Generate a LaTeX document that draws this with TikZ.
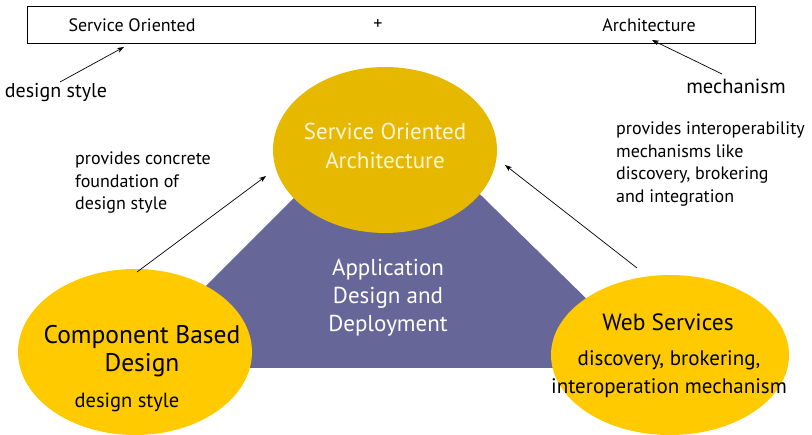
\documentclass[tikz,border=0pt]{standalone}
\usepackage{fontspec}
\setmainfont{PT Sans}
\usetikzlibrary{shapes.geometric,arrows.meta}
\definecolor{soagold}{HTML}{E6B800}
\definecolor{gold}{HTML}{FFCA00}
\definecolor{purp}{HTML}{666699}
\definecolor{cream}{HTML}{FFF6D8}
\tikzset{
  blob/.style={ellipse,inner sep=0pt,draw=none},
  lbl/.style={inner sep=0pt,align=center},
  note/.style={inner sep=0pt,align=left,font=\fontsize{18}{22.5}\selectfont},
  arr/.style={-{Stealth[length=7pt,width=5pt]},line width=0.7pt}
}
\begin{document}
\begin{tikzpicture}[x=1pt,y=-1pt]
\useasboundingbox (0,0) rectangle (812,435);
% top box
\node[draw,line width=0.8pt,minimum width=728pt,minimum height=37pt,inner sep=0pt,anchor=north west] (box) at (27,6) {};
\node[lbl,font=\fontsize{18}{18}\selectfont] (so) at (132,25) {Service Oriented};
\node[lbl,font=\fontsize{18}{18}\selectfont] (plus) at (378,25) {+};
\node[lbl,font=\fontsize{18}{18}\selectfont] (ar) at (649,25) {Architecture};
\node[lbl,font=\fontsize{20}{22}\selectfont] (ds) at (56,93) {design style};
\node[lbl,font=\fontsize{20.5}{22}\selectfont] (mech) at (736,86) {mechanism};
\coordinate (dsA) at (60,82);
\coordinate (dsB) at (124,47);
\coordinate (meA) at (722,74);
\coordinate (meB) at (652,40);
\draw[arr] (dsA) -- (dsB);
\draw[arr] (meA) -- (meB);
% purple triangle
\coordinate (tA) at (388,104);
\coordinate (tL) at (124,368);
\coordinate (tR) at (657,368);
\fill[purp] (tA) -- (tR) -- (tL) -- cycle;
% ellipses
\node[blob,fill=soagold,minimum width=224pt,minimum height=166pt] (soa) at (385,150) {};
\node[blob,fill=gold,minimum width=234pt,minimum height=166pt] (cbd) at (135,352) {};
\node[blob,fill=gold,minimum width=238pt,minimum height=160pt] (ws) at (670,355) {};
% texts in shapes
\node[lbl,text=cream,font=\fontsize{23}{29}\selectfont] (soat) at (385,146) {Service Oriented\\Architecture};
\node[lbl,text=white,font=\fontsize{23}{28}\selectfont] (addt) at (388,298) {Application\\Design and\\Deployment};
\node[lbl,font=\fontsize{25.5}{28}\selectfont] (cbdt) at (142,351) {Component Based\\Design};
\node[lbl,font=\fontsize{20.5}{22}\selectfont] (cbds) at (127,402) {design style};
\node[lbl,font=\fontsize{23.5}{26}\selectfont] (wst) at (668,322) {Web Services};
\node[lbl,font=\fontsize{21}{28}\selectfont] (wss) at (669,374) {discovery, brokering,\\interoperation mechanism};
% notes
\node[note,anchor=north west] (n1) at (75,152) {provides concrete\\foundation of\\design style};
\node[note,anchor=north west] (n2) at (616,122) {provides interoperability\\mechanisms like\\discovery, brokering\\and integration};
\coordinate (l1) at (137,272);
\coordinate (l2) at (266,176);
\coordinate (r1) at (637,268);
\coordinate (r2) at (505,165);
\draw[arr] (l1) -- (l2);
\draw[arr] (r1) -- (r2);
\end{tikzpicture}
\end{document}
